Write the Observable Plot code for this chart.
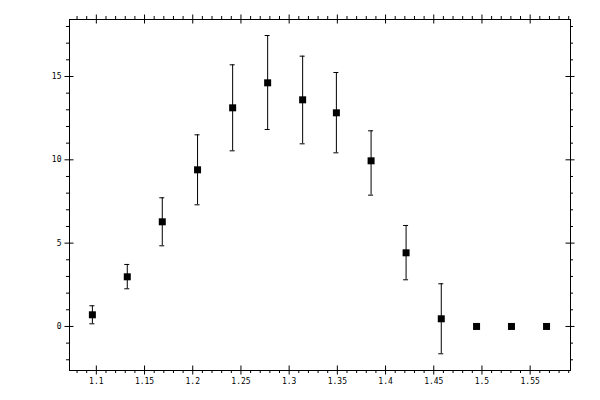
<!DOCTYPE html>
<html>
<head>
<meta charset="utf-8">
<script src="https://cdn.jsdelivr.net/npm/d3@7"></script>
<script src="https://cdn.jsdelivr.net/npm/@observablehq/plot@0.6"></script>
<style>
  html, body { margin: 0; padding: 0; background: #fff; }
</style>
</head>
<body>
<div id="chart"></div>
<script>
// Data
const xs   = [1.0959, 1.1321, 1.1684, 1.2050, 1.2414, 1.2777, 1.3140, 1.3490, 1.3850, 1.4213, 1.4578, 1.4944, 1.5306, 1.5670];
const ys   = [0.70, 2.98, 6.28, 9.40, 13.12, 14.62, 13.60, 12.82, 9.94, 4.42, 0.46, 0, 0, 0];
const errHi = [1.24, 3.72, 7.72, 11.50, 15.70, 17.46, 16.22, 15.24, 11.74, 6.06, 2.56, null, null, null];
const errLo = [0.16, 2.26, 4.84, 7.30, 10.54, 11.82, 10.96, 10.42, 7.88, 2.80, -1.64, null, null, null];

// Axis ticks
const xMajor = [1.1, 1.15, 1.2, 1.25, 1.3, 1.35, 1.4, 1.45, 1.5, 1.55];
const yMajor = [0, 5, 10, 15];
const xDomain = [1.07217, 1.59184];
const yDomain = [-2.643, 18.42];
const xMinor = d3.range(108, 160).map(v => v / 100).filter(v => Math.round(v * 100) % 5 !== 0);
const yMinor = d3.range(-2, 19).filter(v => v % 5 !== 0);

const points = xs.map((x, i) => ({x, y: ys[i], lo: errLo[i], hi: errHi[i]}));
const bars = points.filter(d => d.lo != null);

const font = "'DejaVu Sans Mono', monospace";

const chart = Plot.plot({
  width: 600,
  height: 400,
  marginLeft: 69,
  marginRight: 30,
  marginTop: 19,
  marginBottom: 30,
  style: {fontFamily: font, fontSize: "8px", background: "#fff", color: "#000"},
  x: {domain: xDomain, axis: null},
  y: {domain: yDomain, axis: null},
  marks: [
    Plot.frame({stroke: "#000", strokeWidth: 1}),
    // major ticks crossing the frame
    Plot.ruleX(xMajor, {x: d => d, y1: yDomain[0], y2: yDomain[0], insetTop: -4.5, insetBottom: -4.5, stroke: "#000"}),
    Plot.ruleX(xMajor, {x: d => d, y1: yDomain[1], y2: yDomain[1], insetTop: -4.5, insetBottom: -4.5, stroke: "#000"}),
    Plot.ruleY(yMajor, {y: d => d, x1: xDomain[0], x2: xDomain[0], insetLeft: -4.5, insetRight: -4.5, stroke: "#000"}),
    Plot.ruleY(yMajor, {y: d => d, x1: xDomain[1], x2: xDomain[1], insetLeft: -4.5, insetRight: -4.5, stroke: "#000"}),
    // minor ticks pointing outward
    Plot.ruleX(xMinor, {x: d => d, y1: yDomain[0], y2: yDomain[0], insetTop: 0, insetBottom: -3, stroke: "#000"}),
    Plot.ruleX(xMinor, {x: d => d, y1: yDomain[1], y2: yDomain[1], insetTop: -3, insetBottom: 0, stroke: "#000"}),
    Plot.ruleY(yMinor, {y: d => d, x1: xDomain[0], x2: xDomain[0], insetLeft: -3, insetRight: 0, stroke: "#000"}),
    Plot.ruleY(yMinor, {y: d => d, x1: xDomain[1], x2: xDomain[1], insetLeft: 0, insetRight: -3, stroke: "#000"}),
    // tick labels
    Plot.axisX({ticks: xMajor, tickSize: 0, tickPadding: 8, tickFormat: d => String(d), fontFamily: font, fontSize: 8, fill: "#000", label: null}),
    Plot.axisY({ticks: yMajor, tickSize: 0, tickPadding: 8, tickFormat: d => String(d), fontFamily: font, fontSize: 8, fill: "#000", label: null}),
    // error bars
    Plot.ruleX(bars, {x: "x", y1: "lo", y2: "hi", stroke: "#000", strokeWidth: 1}),
    Plot.ruleY(bars, {y: "hi", x1: "x", x2: "x", insetLeft: -2.5, insetRight: -2.5, stroke: "#000"}),
    Plot.ruleY(bars, {y: "lo", x1: "x", x2: "x", insetLeft: -2.5, insetRight: -2.5, stroke: "#000"}),
    // points
    Plot.dot(points, {x: "x", y: "y", symbol: "square", r: 3.95, fill: "#000", stroke: null})
  ]
});

document.getElementById("chart").appendChild(chart);
</script>
</body>
</html>
